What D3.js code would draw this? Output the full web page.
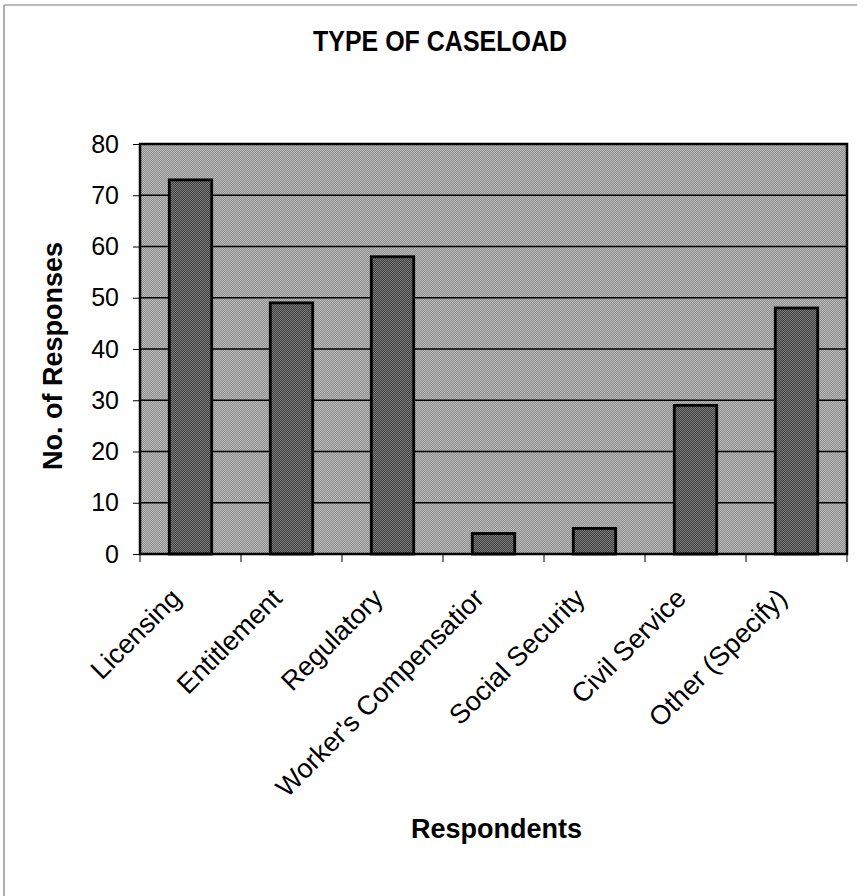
<!DOCTYPE html>
<html>
<head>
<meta charset="utf-8">
<script src="https://cdn.jsdelivr.net/npm/d3@7"></script>
<style>
  body { margin: 0; background: #fff; }
  svg { display: block; font-family: Arial, "Liberation Sans", sans-serif; }
</style>
</head>
<body>
<div id="chart"></div>
<script>
// values
var categories = ["Licensing", "Entitlement", "Regulatory", "Worker's Compensatior",
                  "Social Security", "Civil Service", "Other (Specify)"];
var responses = [73, 49, 58, 4, 5, 29, 48];
var yTicks = [0, 10, 20, 30, 40, 50, 60, 70, 80];

var width = 867, height = 896;
var plot = { left: 140, right: 847, top: 144, bottom: 554 };

var svg = d3.select("#chart").append("svg")
  .attr("width", width)
  .attr("height", height);

// dithered fills, like the scanned original
var defs = svg.append("defs");
function dither(id, a, b) {
  var p = defs.append("pattern")
    .attr("id", id)
    .attr("width", 2).attr("height", 2)
    .attr("patternUnits", "userSpaceOnUse");
  p.append("rect").attr("width", 2).attr("height", 2).attr("fill", a);
  p.append("rect").attr("width", 1).attr("height", 1).attr("fill", b);
  p.append("rect").attr("x", 1).attr("y", 1).attr("width", 1).attr("height", 1).attr("fill", b);
}
dither("bg", "#8e8e8e", "#bababa");
dither("bar", "#3e3e3e", "#7c7c7c");

// outer frame (only top and left edges show)
svg.append("line")
  .attr("x1", 4).attr("x2", 857).attr("y1", 5).attr("y2", 5)
  .attr("stroke", "#777").attr("stroke-width", 1.2);
svg.append("line")
  .attr("x1", 4).attr("x2", 4).attr("y1", 5).attr("y2", height)
  .attr("stroke", "#777").attr("stroke-width", 1.2);

var x = d3.scaleBand()
  .domain(categories)
  .range([plot.left, plot.right])
  .paddingInner(0.58)
  .paddingOuter(0.29);

var y = d3.scaleLinear()
  .domain([0, 80])
  .range([plot.bottom, plot.top]);

// plot area
svg.append("rect")
  .attr("x", plot.left).attr("y", plot.top)
  .attr("width", plot.right - plot.left)
  .attr("height", plot.bottom - plot.top)
  .attr("fill", "url(#bg)");

// gridlines
svg.append("g")
  .selectAll("line")
  .data(yTicks.slice(1, -1))
  .join("line")
  .attr("x1", plot.left).attr("x2", plot.right)
  .attr("y1", function (d) { return y(d); })
  .attr("y2", function (d) { return y(d); })
  .attr("stroke", "#000").attr("stroke-width", 1.3);

// bars
svg.append("g")
  .selectAll("rect")
  .data(responses)
  .join("rect")
  .attr("x", function (d, i) { return x(categories[i]); })
  .attr("y", function (d) { return y(d); })
  .attr("width", x.bandwidth())
  .attr("height", function (d) { return y(0) - y(d); })
  .attr("fill", "url(#bar)")
  .attr("stroke", "#000")
  .attr("stroke-width", 2.8);

// plot border
svg.append("rect")
  .attr("x", plot.left).attr("y", plot.top)
  .attr("width", plot.right - plot.left)
  .attr("height", plot.bottom - plot.top)
  .attr("fill", "none")
  .attr("stroke", "#000").attr("stroke-width", 2.5);

// y axis
var yAxis = svg.append("g")
  .attr("transform", "translate(" + plot.left + ",0)")
  .call(d3.axisLeft(y).tickValues(yTicks).tickSize(7).tickPadding(14));
yAxis.select(".domain").remove();
yAxis.selectAll("line").attr("stroke", "#000");
yAxis.selectAll("text")
  .attr("font-size", 25)
  .attr("font-family", "Arial, 'Liberation Sans', sans-serif")
  .attr("fill", "#000");

// x axis ticks sit between the categories
var step = x.step();
var boundaries = d3.range(categories.length + 1).map(function (i) {
  return plot.left + i * step;
});
svg.append("g")
  .selectAll("line")
  .data(boundaries)
  .join("line")
  .attr("x1", function (d) { return d; })
  .attr("x2", function (d) { return d; })
  .attr("y1", plot.bottom)
  .attr("y2", plot.bottom + 8)
  .attr("stroke", "#000").attr("stroke-width", 1);

// category labels, slanted
svg.append("g")
  .selectAll("text")
  .data(categories)
  .join("text")
  .attr("transform", function (d) {
    var cx = x(d) + x.bandwidth() / 2;
    return "translate(" + (cx - 8) + "," + (plot.bottom + 46) + ") rotate(-45)";
  })
  .attr("text-anchor", "end")
  .attr("font-size", 27)
  .attr("fill", "#000")
  .text(function (d) { return d; });

// titles
svg.append("text")
  .attr("x", 440).attr("y", 51)
  .attr("text-anchor", "middle")
  .attr("font-size", 29)
  .attr("font-weight", "bold")
  .attr("textLength", 254)
  .attr("lengthAdjust", "spacingAndGlyphs")
  .text("TYPE OF CASELOAD");

svg.append("text")
  .attr("x", (plot.left + plot.right) / 2 + 3).attr("y", 838)
  .attr("text-anchor", "middle")
  .attr("font-size", 27)
  .attr("font-weight", "bold")
  .text("Respondents");

svg.append("text")
  .attr("transform", "translate(62," + ((plot.top + plot.bottom) / 2 + 7) + ") rotate(-90)")
  .attr("text-anchor", "middle")
  .attr("font-size", 27)
  .attr("font-weight", "bold")
  .text("No. of Responses");
</script>
</body>
</html>
